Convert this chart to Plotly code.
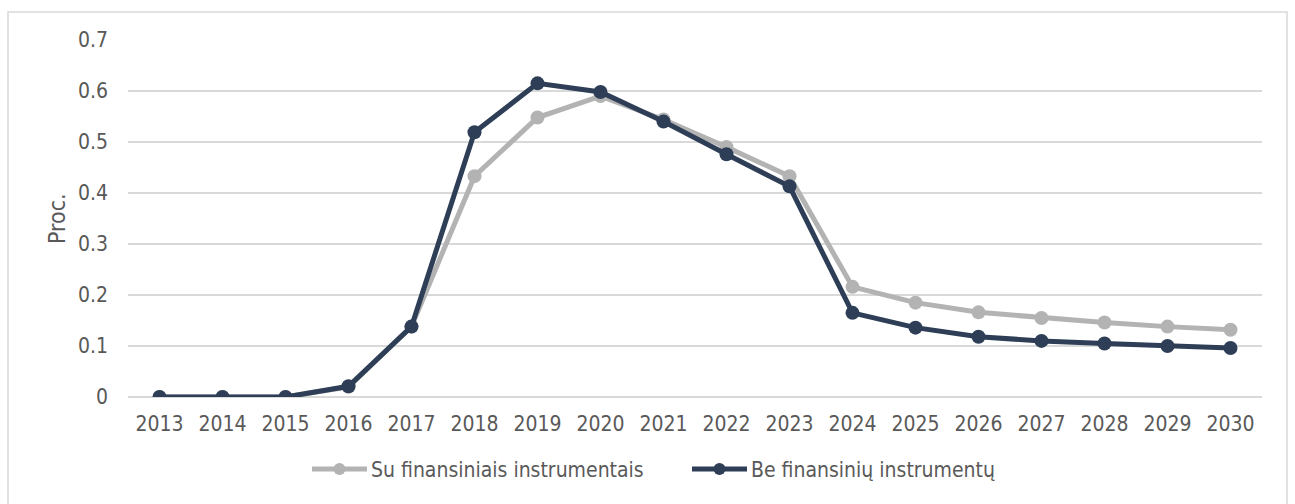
import plotly.graph_objects as go

# Data
years = [str(y) for y in range(2013, 2031)]
su_finansiniais = [0, 0, 0, 0.02, 0.138, 0.433, 0.548, 0.59, 0.544, 0.49, 0.433,
                   0.216, 0.185, 0.166, 0.155, 0.146, 0.138, 0.132]
be_finansiniu = [0, 0, 0, 0.021, 0.138, 0.519, 0.615, 0.598, 0.540, 0.476, 0.413,
                 0.165, 0.136, 0.118, 0.110, 0.105, 0.100, 0.096]
y_ticks = [0, 0.1, 0.2, 0.3, 0.4, 0.5, 0.6, 0.7]
series_names = ["Su finansiniais instrumentais", "Be finansinių instrumentų"]

GRAY = "#b3b3b3"
NAVY = "#2d3e56"
TEXT = "#595959"
GRID = "#d9d9d9"
FONT = "DejaVu Sans Condensed, DejaVu Sans, sans-serif"
FS = 21

W, H = 1295, 504
L, R, T, B = 128, 33, 40, 107
PW, PH = W - L - R, H - T - B


def px_x(px):
    return (px - L) / PW


def px_y(py):
    return (H - B - py) / PH


fig = go.Figure()
for name, vals, col in [(series_names[0], su_finansiniais, GRAY),
                        (series_names[1], be_finansiniu, NAVY)]:
    fig.add_trace(go.Scatter(
        x=years, y=vals, name=name, mode="lines+markers",
        line=dict(color=col, width=5),
        marker=dict(color=col, size=14),
        showlegend=False,
    ))

shapes = [
    # outer chart frame
    dict(type="rect", xref="paper", yref="paper",
         x0=px_x(8), x1=px_x(1287), y0=px_y(507), y1=px_y(12),
         line=dict(color=GRID, width=1.5), fillcolor="rgba(0,0,0,0)", layer="below"),
]
annotations = [
    dict(text="Proc.", textangle=-90, xref="paper", yref="paper",
         x=px_x(57), y=px_y(219), xanchor="center", yanchor="middle",
         showarrow=False, font=dict(family=FONT, size=23, color=TEXT)),
]

# legend keys
legend_items = [(series_names[0], GRAY, 312), (series_names[1], NAVY, 692)]
ly = px_y(469)
for name, col, x0 in legend_items:
    shapes.append(dict(type="line", xref="paper", yref="paper",
                       x0=px_x(x0), x1=px_x(x0 + 55), y0=ly, y1=ly,
                       line=dict(color=col, width=5)))
    cx = x0 + 27.5
    r = 6
    shapes.append(dict(type="circle", xref="paper", yref="paper",
                       x0=px_x(cx - r), x1=px_x(cx + r),
                       y0=px_y(469 + r), y1=px_y(469 - r),
                       line=dict(color=col, width=0), fillcolor=col))
    annotations.append(dict(text=name, xref="paper", yref="paper",
                            x=px_x(x0 + 57), y=px_y(470), xanchor="left", yanchor="middle",
                            showarrow=False,
                            font=dict(family=FONT, size=FS, color=TEXT)))

fig.update_layout(
    width=W, height=H,
    margin=dict(l=L, r=R, t=T, b=B),
    paper_bgcolor="white", plot_bgcolor="white",
    font=dict(family=FONT, size=FS, color=TEXT),
    shapes=shapes, annotations=annotations,
    xaxis=dict(type="category", range=[-0.5, len(years) - 0.5],
               showgrid=False, showline=False, zeroline=False,
               ticks="", ticklabelstandoff=12,
               tickfont=dict(family=FONT, size=FS, color=TEXT)),
    yaxis=dict(range=[0, 0.7], tickvals=y_ticks, showgrid=True, gridcolor=GRID,
               gridwidth=1.5, zeroline=True, zerolinecolor=GRID, zerolinewidth=1.5,
               showline=False, ticks="", ticklabelstandoff=19,
               tickfont=dict(family=FONT, size=FS, color=TEXT)),
)

fig.write_html("out.html")
